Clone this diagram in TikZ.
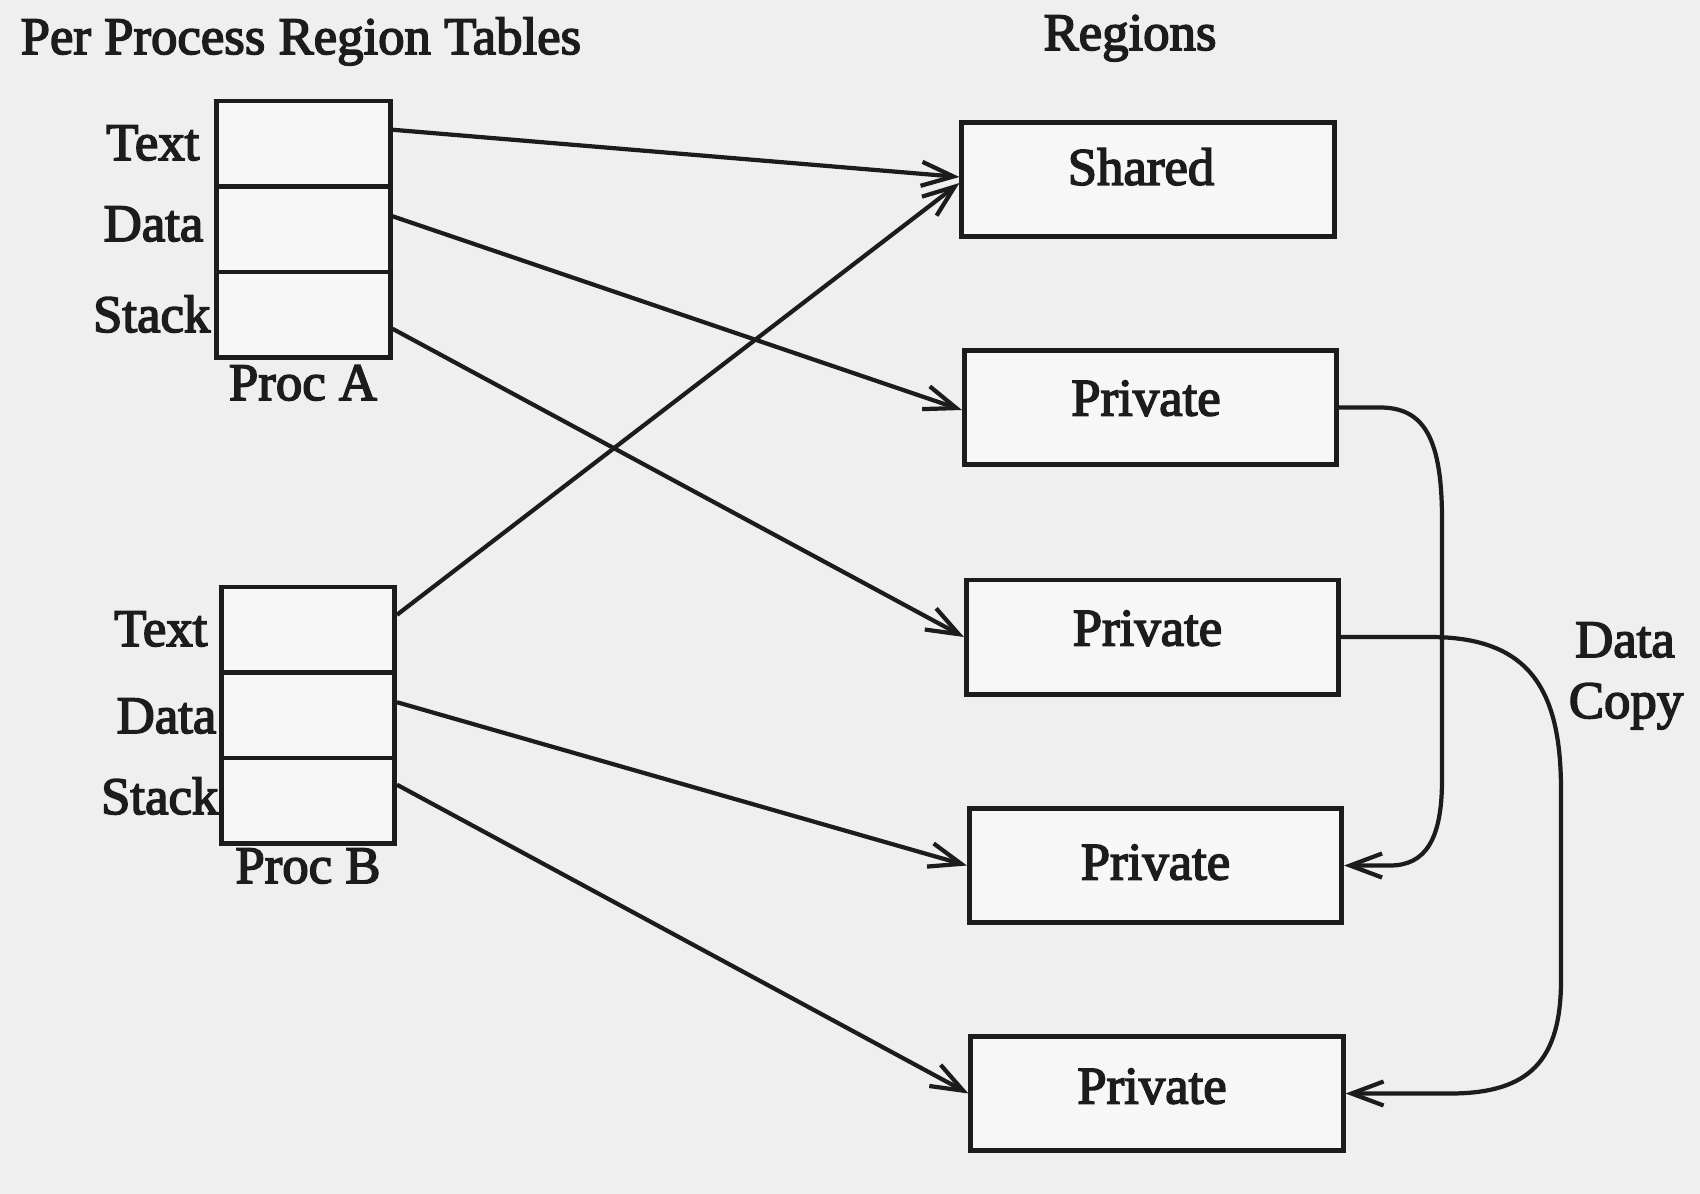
\documentclass[tikz,border=0pt]{standalone}
\usepackage{fontspec}
\setmainfont{Liberation Serif}[UprightFeatures={FakeBold=3}]
\usetikzlibrary{arrows.meta}
\definecolor{bgc}{RGB}{239,239,239}
\definecolor{ink}{RGB}{28,28,28}
\definecolor{boxfill}{RGB}{247,247,247}
\tikzset{
  lbl/.style={font=\fontsize{15}{18}\selectfont, inner sep=0pt, text=ink},
  cell/.style={draw=ink, line width=1.4pt, fill=boxfill, minimum width=1.73cm,
    minimum height=0.855cm, inner sep=0pt},
  region/.style={draw=ink, line width=1.4pt, fill=boxfill, minimum width=3.72cm,
    minimum height=1.14cm, inner sep=0pt, font=\fontsize{15}{18}\selectfont, text=ink},
  link/.style={draw=ink, line width=1.2pt, -{Straight Barb[length=3.2mm,width=2.4mm]}}
}
\begin{document}
\begin{tikzpicture}[x=0.01cm,y=-0.01cm]
\fill[bgc] (0,0) rectangle (1700,1194);
\useasboundingbox (0,0) rectangle (1700,1194);

% titles
\node[lbl, anchor=base west] (title) at (20,54) {Per Process Region Tables};
\node[lbl, anchor=base] (regs) at (1130,50) {Regions};

% Proc A table
\node[cell] (aT) at (303.5,143.75) {};
\node[cell] (aD) at (303.5,229.25) {};
\node[cell] (aS) at (303.5,314.75) {};
\node[lbl, anchor=base east] (aTl) at (200,160) {Text};
\node[lbl, anchor=base east] (aDl) at (204,241) {Data};
\node[lbl, anchor=base east] (aSl) at (211,332) {Stack};
\node[lbl, anchor=base] (aN) at (303,400) {Proc A};

% Proc B table
\node[cell] (bT) at (308,629.75) {};
\node[cell] (bD) at (308,715.25) {};
\node[cell] (bS) at (308,800.75) {};
\node[lbl, anchor=base east] (bTl) at (208,646) {Text};
\node[lbl, anchor=base east] (bDl) at (217,733) {Data};
\node[lbl, anchor=base east] (bSl) at (219,814) {Stack};
\node[lbl, anchor=base] (bN) at (308,883) {Proc B};

% regions
\node[region, text depth=0.26cm] (sh) at (1148,179.5) {\hspace{-0.14cm}Shared};
\node[region, text depth=0.19cm] (p1) at (1150.5,407.5) {\hspace{-0.09cm}Private};
\node[region, text depth=0.18cm] (p2) at (1152.5,637) {\hspace{-0.1cm}Private};
\node[region, text depth=0.07cm] (p3) at (1155.5,865.5) {Private};
\node[region, text depth=0.15cm] (p4) at (1157,1093.5) {\hspace{-0.1cm}Private};

\node[lbl, anchor=base] (dc1) at (1625,657) {Data};
\node[lbl, anchor=base] (dc2) at (1626,718) {Copy};

% links
\draw[link] ([yshift=0.14cm]aT.east) -- ([yshift=0.025cm]sh.west);
\draw[link] ([yshift=0.15cm]bT.east) -- ([yshift=-0.035cm]sh.west);
\draw[link] ([yshift=0.13cm]aD.east) -- ([yshift=-0.025cm]p1.west);
\draw[link] ([yshift=-0.14cm]aS.east) -- (p2.west);
\draw[link] ([yshift=0.13cm]bD.east) -- (p3.west);
\draw[link] ([yshift=0.16cm]bS.east) -- (p4.west);

% data copy curves
\draw[link] (p1.east) -- (1380,407.5) .. controls (1425,407.5) and (1442,440) .. (1442,520)
  -- (1442,780) .. controls (1442,840) and (1425,865.5) .. (1390,865.5) -- (p3.east);
\draw[link] (p2.east) -- (1430,637) .. controls (1530,637) and (1561,690) .. (1561,790)
  -- (1561,980) .. controls (1561,1060) and (1530,1093.5) .. (1450,1093.5) -- (p4.east);
\end{tikzpicture}
\end{document}
